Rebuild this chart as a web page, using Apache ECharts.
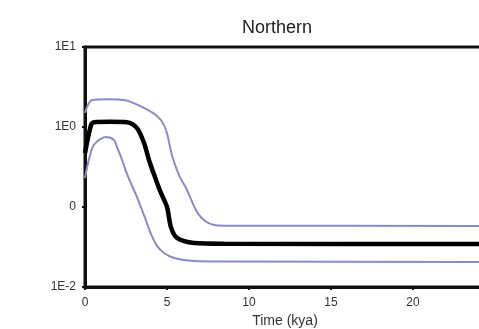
<!DOCTYPE html>
<html>
<head>
<meta charset="utf-8">
<script src="https://cdn.jsdelivr.net/npm/echarts@6/dist/echarts.min.js"></script>
<style>html,body{margin:0;padding:0;background:#fff;}#c{width:479px;height:329px;}</style>
</head>
<body>
<div id="c"></div>
<script>
const titleText = 'Northern';
const xName = 'Time (kya)';
const yTickLabels = { '10': '1E1', '1': '1E0', '0.1': '0', '0.01': '1E-2' };

const medianX = [0, 0.37, 0.55, 1.5, 2.56, 3.17, 3.6, 3.9, 4.33, 4.63, 5.0, 5.24, 5.61, 6.65, 8.5, 25];
const medianY = [0.47, 1.06, 1.15, 1.16, 1.15, 0.97, 0.63, 0.387, 0.218, 0.15, 0.1, 0.056, 0.041, 0.0355, 0.0348, 0.0345];

const upperX = [0, 0.43, 1.4, 2.38, 3.6, 4.51, 4.94, 5.3, 5.73, 6.22, 6.83, 7.32, 7.87, 8.5, 25];
const upperY = [1.5, 2.18, 2.22, 2.18, 1.73, 1.3, 0.917, 0.447, 0.251, 0.163, 0.0866, 0.0668, 0.0596, 0.0585, 0.058];

const lowerX = [0, 0.25, 0.55, 1.28, 1.77, 1.95, 2.26, 2.56, 2.87, 3.17, 3.66, 4.02, 4.39, 4.82, 5.43, 6.65, 8.48, 25];
const lowerY = [0.23, 0.4, 0.6, 0.75, 0.69, 0.562, 0.387, 0.259, 0.183, 0.133, 0.0729, 0.046, 0.0326, 0.0266, 0.023, 0.0211, 0.0208, 0.0205];

const zip = (xs, ys) => xs.map((x, i) => [x, ys[i]]);

const chart = echarts.init(document.getElementById('c'));
const font = 'Liberation Sans, Arial, sans-serif';
chart.setOption({
  backgroundColor: '#ffffff',
  animation: false,
  title: {
    text: titleText, left: 272, top: 14, textAlign: 'center',
    textStyle: { fontFamily: font, fontSize: 18, fontWeight: 'normal', color: '#222' }
  },
  grid: { left: 85, top: 47, height: 240, width: 410, outerBoundsMode: 'none', containLabel: false, show: true, borderColor: '#111', borderWidth: 3, backgroundColor: 'transparent' },
  xAxis: {
    type: 'value', min: 0, max: 25, interval: 5,
    name: xName, nameLocation: 'middle', nameGap: 27,
    nameTextStyle: { fontFamily: font, fontSize: 14, color: '#333', padding: [0, 10, 0, 0] },
    axisLine: { show: true, lineStyle: { color: '#111', width: 3 } },
    axisTick: { show: true, length: 3, lineStyle: { color: '#111', width: 2 } },
    axisLabel: { fontFamily: font, fontSize: 12, color: '#333', margin: 10 },
    splitLine: { show: false }
  },
  yAxis: {
    type: 'log', logBase: 10, min: 0.01, max: 10,
    axisLine: { show: true, lineStyle: { color: '#111', width: 3 } },
    axisTick: { show: true, length: 3, lineStyle: { color: '#111', width: 2 } },
    axisLabel: {
      fontFamily: font, fontSize: 12, color: '#333', margin: 9,
      formatter: v => yTickLabels[String(+v.toPrecision(3))] || ''
    },
    splitLine: { show: false }
  },
  series: [
    { type: 'line', data: zip(upperX, upperY), smooth: 0.3, symbol: 'none', lineStyle: { color: '#8a8ac4', width: 2 } },
    { type: 'line', data: zip(lowerX, lowerY), smooth: 0.3, symbol: 'none', lineStyle: { color: '#8a8ac4', width: 2 } },
    { type: 'line', data: zip(medianX, medianY), smooth: 0.3, symbol: 'none', lineStyle: { color: '#000', width: 4.5 } }
  ]
});
</script>
</body>
</html>
